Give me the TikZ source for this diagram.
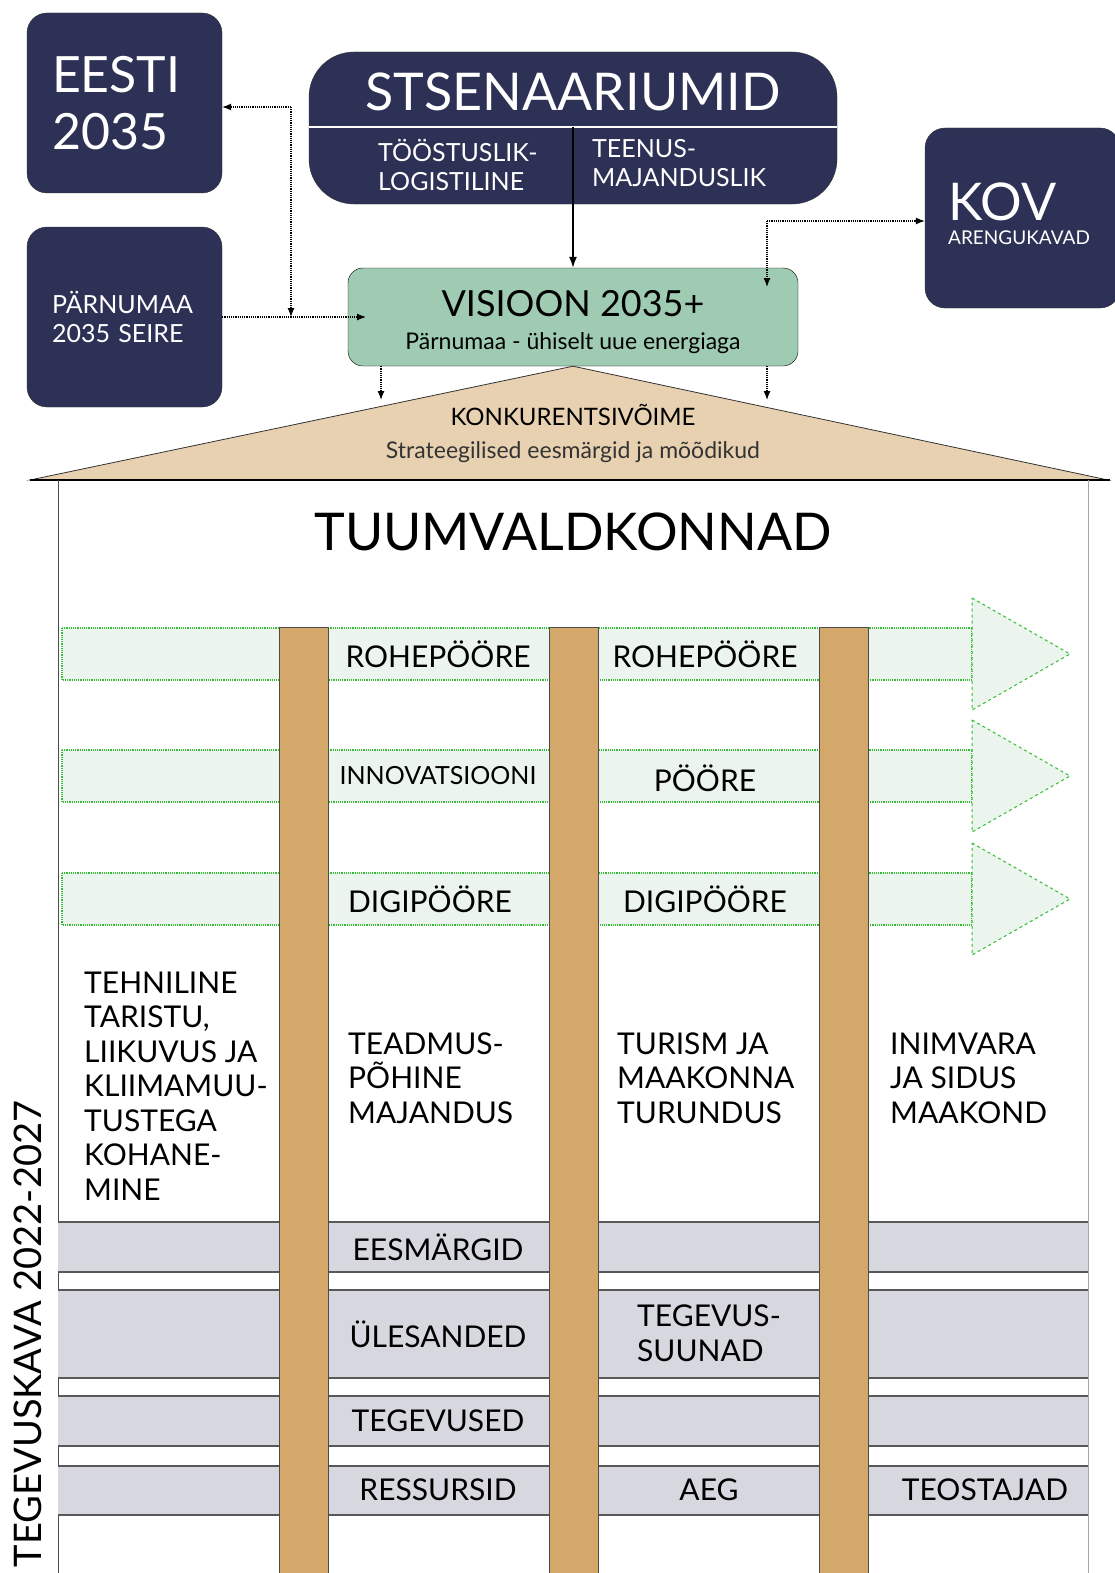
\documentclass[tikz,border=0pt]{standalone}
\usepackage{fontspec}
\setmainfont{Lato}
\usepackage{tikz}
\usetikzlibrary{arrows.meta,calc,positioning}

\definecolor{navy}{HTML}{2D3156}
\definecolor{visgreen}{HTML}{9FCBB3}
\definecolor{roof}{HTML}{E8D1B1}
\definecolor{pillar}{HTML}{D4A76B}
\definecolor{bandgreen}{HTML}{EBF5EE}
\definecolor{dashgreen}{HTML}{33BB33}
\definecolor{bandgray}{HTML}{D7D8DF}
\newcommand{\fsz}[2]{\fontsize{#1}{#2}\selectfont}

\begin{document}
\begin{tikzpicture}[x=1pt,y=-1pt,
		darkbox/.style={draw=black!80, fill=navy, rounded corners=20pt, text=white, minimum width=195pt, minimum height=180pt, text width=145pt, inner xsep=25pt, align=left},
		scenbox/.style={draw=black!80, fill=navy, rounded corners=45pt, minimum width=528pt, minimum height=152pt},
		visbox/.style={draw=black, fill=visgreen, rounded corners=15pt, minimum width=450pt, minimum height=98pt},
		label/.style={inner sep=0pt, font=\fsz{30}{34.5}},
		coltext/.style={inner sep=0pt, anchor=west, align=left, font=\fsz{30}{34.5}},
		greenband/.style={fill=bandgreen, draw=dashgreen, densely dotted, line width=1.2pt},
		greenhead/.style={fill=bandgreen, draw=dashgreen, dashed, line width=1pt},
		grayline/.style={draw=black!65, line width=1.5pt},
		pillarbox/.style={fill=pillar, draw=black!70, line width=0.8pt},
		dotarrow/.style={densely dotted, line width=1.2pt, -{Latex[length=9pt,width=7pt]}},
		solidarrow/.style={line width=1.5pt, -{Latex[length=11pt,width=8pt]}}
		]
		\clip (0,0) rectangle (1115,1573);
		\fill[white] (0,0) rectangle (1115,1573);

		% ulemised kastid
		\node[darkbox, font=\fsz{50}{57}] (eesti) at (124.5,103) {EESTI\\2035};
		\node[darkbox, font=\fsz{25}{29}] (parnu) at (124.5,317) {PÄRNUMAA\\2035 SEIRE};
		\node[darkbox] (kov) at (1022.5,218) {};
		\node[inner sep=0pt, anchor=west, text=white, font=\fsz{52}{52}] (kovT) at (948,202) {KOV};
		\node[inner sep=0pt, anchor=west, text=white, font=\fsz{19}{19}] (kovS) at (948,238) {ARENGUKAVAD};

		% stsenaariumid
		\node[scenbox] (scen) at (573,128) {};
		\coordinate (split) at (573,127);
		\draw[white, line width=1.2pt] (scen.west |- split) -- (scen.east |- split);
		\node[inner sep=0pt, text=white, font=\fsz{52}{52}] (scenT) at (573,92) {STSENAARIUMID};
		\node[inner sep=0pt, anchor=west, align=left, text=white, font=\fsz{25}{29}] (scenA) at (378,165) {TÖÖSTUSLIK-\\LOGISTILINE};
		\node[inner sep=0pt, anchor=west, align=left, text=white, font=\fsz{25}{29}] (scenB) at (592,163) {TEENUS-\\MAJANDUSLIK};

		% visioon
		\node[visbox] (vis) at (573,317) {};
		\node[inner sep=0pt, font=\fsz{36}{36}] (visT) at (573,304) {VISIOON 2035+};
		\node[inner sep=0pt, font=\fsz{23}{23}] (visS) at (573,343) {Pärnumaa - ühiselt uue energiaga};

		% katus
		\draw[black!80, fill=roof, line width=0.8pt] (30,480) -- (vis.south) -- (1108,480) -- cycle;
		\draw[line width=2pt] (30,480) -- (1110,480);
		\node[inner sep=0pt, font=\fsz{24}{24}] (konk) at (573,415) {KONKURENTSIVÕIME};
		\node[inner sep=0pt, text=black!80, font=\fsz{23}{23}] (strat) at (573,452) {Strateegilised eesmärgid ja mõõdikud};

		% maja seinad
		\draw[black!70, line width=0.8pt] (58,480) -- (58,1573);
		\draw[black!35, line width=0.8pt] (1088,480) -- (1088,1573);
		\node[inner sep=0pt, font=\fsz{52}{52}] (tuum) at (573,532) {TUUMVALDKONNAD};

		% poorded
		\foreach \y in {654,776,899}{
			\draw[greenband] (62,\y-26) rectangle (972,\y+26);
			\draw[greenhead] (972,\y-56) -- (1070,\y) -- (972,\y+56) -- cycle;
		}

		% hallid ribad
		\foreach \a/\b in {1222/1272,1290/1378,1396/1446,1466/1515}{
			\fill[bandgray] (58,\a) rectangle (1088,\b);
			\draw[grayline] (58,\a) -- (1088,\a) (58,\b) -- (1088,\b);
		}

		% sambad
		\foreach \x in {279,549,819}
			\draw[pillarbox] (\x,627) rectangle (\x+49,1585);

		% tekstid
		\node[label] (roheA) at (438,654) {ROHEPÖÖRE};
		\node[label] (roheB) at (705,654) {ROHEPÖÖRE};
		\node[label, font=\fsz{25}{25}] (innoA) at (438,776) {INNOVATSIOONI};
		\node[label] (innoB) at (705,778) {PÖÖRE};
		\node[label] (digiA) at (430,899) {DIGIPÖÖRE};
		\node[label] (digiB) at (705,899) {DIGIPÖÖRE};

		\node[coltext] (colA) at (84,1086) {TEHNILINE\\TARISTU,\\LIIKUVUS JA\\KLIIMAMUU-\\TUSTEGA\\KOHANE-\\MINE};
		\node[coltext] (colB) at (348,1078) {TEADMUS-\\PÕHINE\\MAJANDUS};
		\node[coltext] (colC) at (617,1078) {TURISM JA\\MAAKONNA\\TURUNDUS};
		\node[coltext] (colD) at (890,1078) {INIMVARA\\JA SIDUS\\MAAKOND};

		\node[label] (eesm) at (438,1247) {EESMÄRGID};
		\node[label] (ules) at (438,1334) {ÜLESANDED};
		\node[coltext] (suun) at (637,1333) {TEGEVUS-\\SUUNAD};
		\node[label] (tegev) at (438,1421) {TEGEVUSED};
		\node[label] (ress) at (438,1490) {RESSURSID};
		\node[label] (aeg) at (709,1490) {AEG};
		\node[label] (teos) at (985,1490) {TEOSTAJAD};

		\node[inner sep=0pt, rotate=90, font=\fsz{38}{38}] (plan) at (28,1334) {TEGEVUSKAVA 2022-2027};

		% nooled
		\draw[solidarrow] (split) -- (vis.north);
		\coordinate (knee) at (291,107);
		\coordinate (join) at (291,317);
		\coordinate (visin) at (366,317);
		\draw[dotarrow] (knee) -- (eesti.east |- knee);
		\draw[dotarrow] (knee) -- (join);
		\draw[dotarrow] (parnu.east) -- (visin);
		\coordinate (kovknee) at (767,221);
		\coordinate (kovin) at (767,287);
		\draw[dotarrow] (kovknee) -- (kov.west |- kovknee);
		\draw[dotarrow] (kovknee) -- (kovin);
		\coordinate (roofL) at (381,400);
		\coordinate (roofR) at (767,400);
		\draw[dotarrow] (vis.south -| roofL) -- (roofL);
		\draw[dotarrow] (vis.south -| roofR) -- (roofR);
\end{tikzpicture}
\end{document}
